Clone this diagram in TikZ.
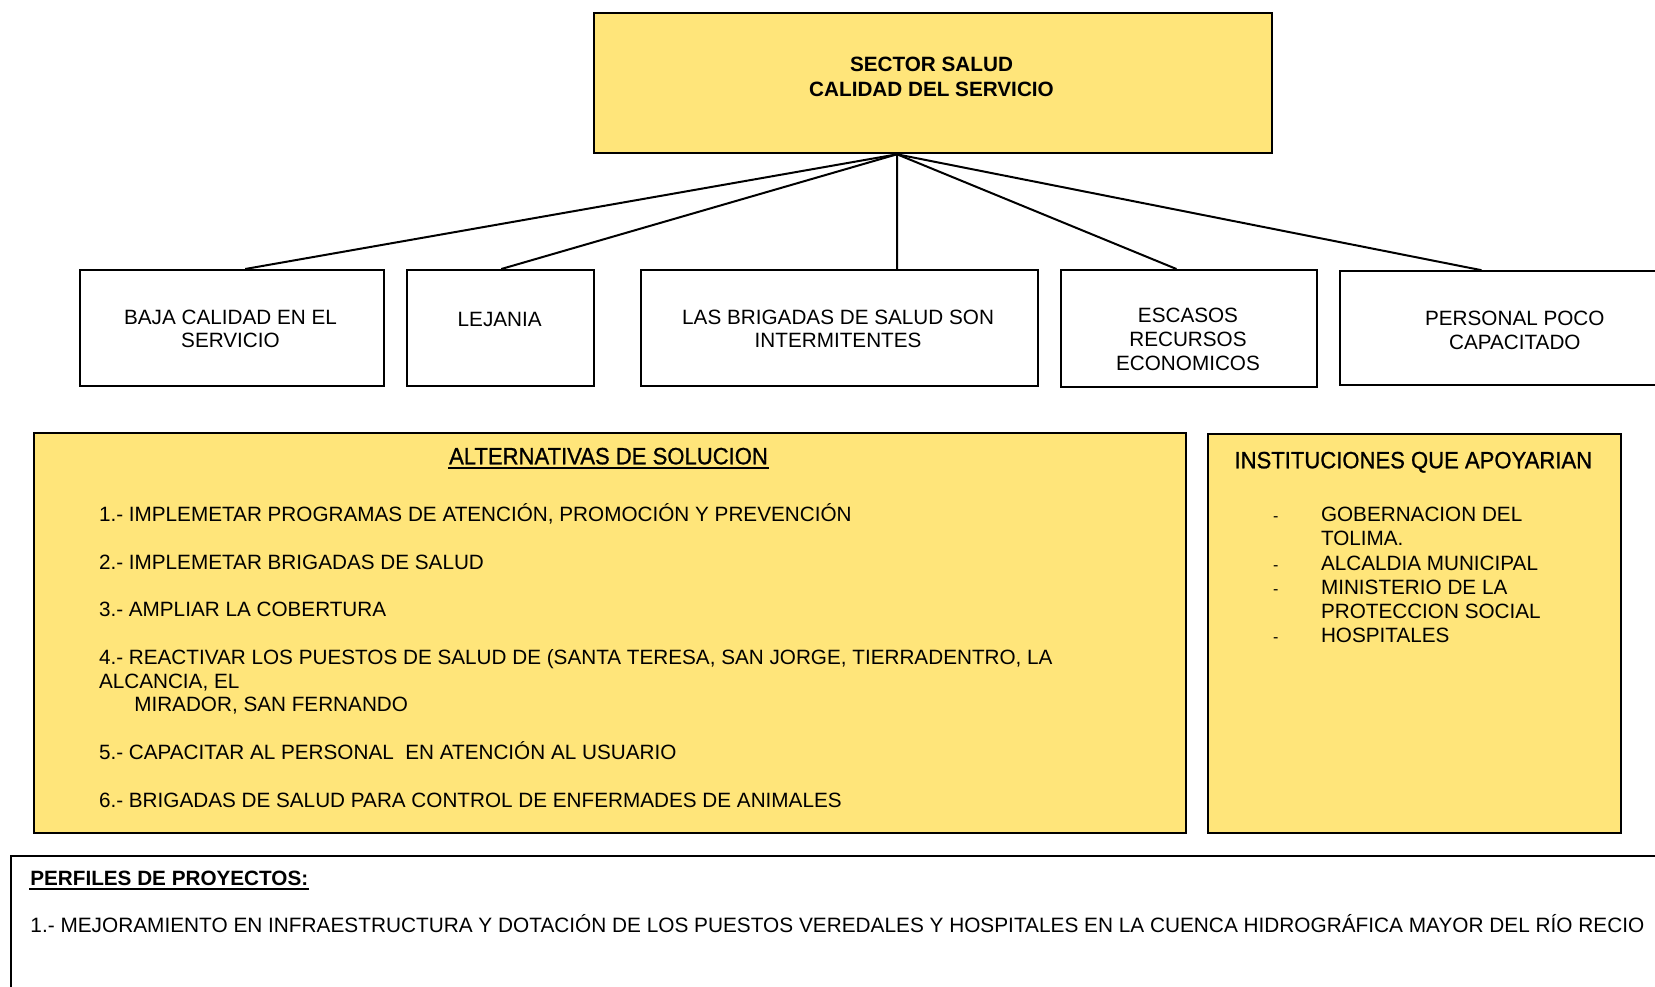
\documentclass[tikz,border=0pt]{standalone}
\usepackage{fontspec}
\setmainfont{Liberation Sans}
\newfontfamily\narrowfont[FakeStretch=0.935,FakeBold=0.9]{Liberation Sans}
\definecolor{boxyellow}{RGB}{255,229,122}

\begin{document}
\begin{tikzpicture}[x=1pt, y=-1pt, line width=2pt,
    box/.style={draw, anchor=north west, inner sep=0pt},
    ybox/.style={box, fill=boxyellow},
    txt/.style={anchor=base, inner sep=0pt, font=\fontsize{20.7}{24}\selectfont},
    ltxt/.style={txt, anchor=base west},
    btxt/.style={txt, font=\fontsize{20.7}{24}\selectfont\bfseries},
    head/.style={txt, font=\narrowfont\fontsize{23.6}{28}\selectfont},
    hyph/.style={txt, font=\fontsize{16}{20}\selectfont}]
      \useasboundingbox (0,0) rectangle (1655,986);
      % boxes
      \node[ybox, minimum width=678, minimum height=140.6] (sector) at (592.5,11.7) {};
      \node[box, minimum width=304, minimum height=116.3] (baja) at (78.5,269) {};
      \node[box, minimum width=187, minimum height=116.3] (lejania) at (406.2,269) {};
      \node[box, minimum width=397, minimum height=116.3] (brigadas) at (639.6,269) {};
      \node[box, minimum width=256.5, minimum height=116.5] (escasos) at (1059.7,269) {};
      \node[box, minimum width=351, minimum height=114] (personal) at (1339.3,270.2) {};
      \node[ybox, minimum width=1152.6, minimum height=400] (alternativas) at (32.7,431.7) {};
      \node[ybox, minimum width=413.7, minimum height=399] (instituciones) at (1206.5,432.8) {};
      \node[box, minimum width=1700, minimum height=200] (perfiles) at (9.5,855) {};
      % connectors
      \coordinate (hub) at ([xshift=-35.5pt]sector.south);
      \draw (hub) -- ([xshift=13.7pt]baja.north);
      \draw (hub) -- ([xshift=0.6pt]lejania.north);
      \draw (hub) -- ([xshift=58pt]brigadas.north);
      \draw (hub) -- ([xshift=-12.5pt]escasos.north);
      \draw (hub) -- ([xshift=-34.3pt]personal.north);
      % texts of the tree
      \node[btxt] (sector1) at (931.5,71) {SECTOR SALUD};
      \node[btxt] (sector2) at (931.5,96.3) {CALIDAD DEL SERVICIO};
      \node[txt] (baja1) at (230.5,324) {BAJA CALIDAD EN EL};
      \node[txt] (baja2) at (230.5,347) {SERVICIO};
      \node[txt] (lejania1) at (499.7,326) {LEJANIA};
      \node[txt] (brigadas1) at (838.1,324) {LAS BRIGADAS DE SALUD SON};
      \node[txt] (brigadas2) at (838.1,347) {INTERMITENTES};
      \node[txt] (escasos1) at (1188,322.7) {ESCASOS};
      \node[txt] (escasos2) at (1188,346.7) {RECURSOS};
      \node[txt] (escasos3) at (1188,370.7) {ECONOMICOS};
      \node[txt] (personal1) at (1514.8,325) {PERSONAL POCO};
      \node[txt] (personal2) at (1514.8,349) {CAPACITADO};
      % alternativas
      \node[head] (altitulo) at (608.5,464.3) {ALTERNATIVAS DE SOLUCION};
      \draw ([yshift=-4pt]altitulo.base west) -- ([yshift=-4pt]altitulo.base east);
      \node[ltxt] (alt1) at (98,521.5) {1.- IMPLEMETAR PROGRAMAS DE ATENCIÓN, PROMOCIÓN Y PREVENCIÓN};
      \node[ltxt] (alt2) at (98,569.1) {2.- IMPLEMETAR BRIGADAS DE SALUD};
      \node[ltxt] (alt3) at (98,616.7) {3.- AMPLIAR LA COBERTURA};
      \node[ltxt] (alt4) at (98,664.3) {4.- REACTIVAR LOS PUESTOS DE SALUD DE (SANTA TERESA, SAN JORGE, TIERRADENTRO, LA};
      \node[ltxt] (alt4b) at (98,688.1) {ALCANCIA, EL};
      \node[ltxt] (alt4c) at (133.3,711.9) {MIRADOR, SAN FERNANDO};
      \node[ltxt] (alt5) at (98,759.5) {5.- CAPACITAR AL PERSONAL\ \ EN ATENCIÓN AL USUARIO};
      \node[ltxt] (alt6) at (98,807.1) {6.- BRIGADAS DE SALUD PARA CONTROL DE ENFERMADES DE ANIMALES};
      % instituciones
      \node[head] (instulo) at (1413.3,468.3) {INSTITUCIONES QUE APOYARIAN};
      \node[hyph] (guion1) at (1275.8,521.8) {-};
      \node[hyph] (guion2) at (1275.8,570) {-};
      \node[hyph] (guion3) at (1275.8,594.1) {-};
      \node[hyph] (guion4) at (1275.8,642.3) {-};
      \node[ltxt] (inst1) at (1320,521.8) {GOBERNACION DEL};
      \node[ltxt] (inst1b) at (1320,545.9) {TOLIMA.};
      \node[ltxt] (inst2) at (1320,570) {ALCALDIA MUNICIPAL};
      \node[ltxt] (inst3) at (1320,594.1) {MINISTERIO DE LA};
      \node[ltxt] (inst3b) at (1320,618.2) {PROTECCION SOCIAL};
      \node[ltxt] (inst4) at (1320,642.3) {HOSPITALES};
      % perfiles
      \node[ltxt, font=\fontsize{20.7}{24}\selectfont\bfseries] (perftitulo) at (29.3,885) {PERFILES DE PROYECTOS:};
      \draw[line width=2.5pt] ([yshift=-4pt]perftitulo.base west) -- ([yshift=-4pt]perftitulo.base east);
      \node[ltxt, font=\fontsize{20.8}{24}\selectfont] (perf1) at (29.5,932) {1.- MEJORAMIENTO EN INFRAESTRUCTURA Y DOTACIÓN DE LOS PUESTOS VEREDALES Y HOSPITALES EN LA CUENCA HIDROGRÁFICA MAYOR DEL RÍO RECIO};
    \end{tikzpicture}
\end{document}
